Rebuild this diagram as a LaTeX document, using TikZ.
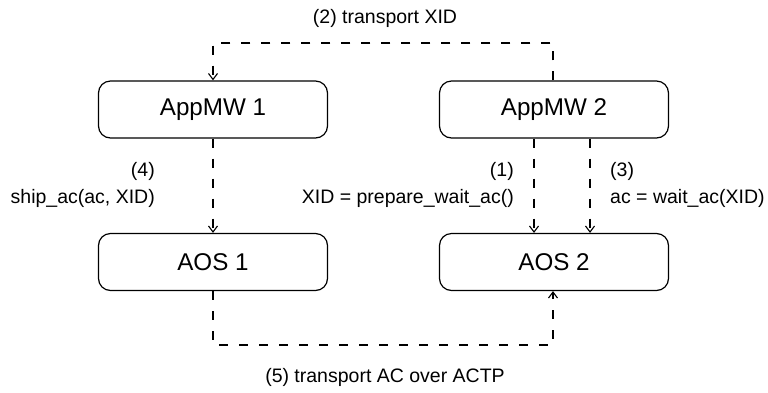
\documentclass[tikz,border=0pt]{standalone}
\usepackage{fontspec}
\setmainfont{Liberation Sans}
\usetikzlibrary{arrows.meta}
\begin{document}
\begin{tikzpicture}[x=1pt,y=-1pt,
  box/.style={draw, line width=1.2pt, rounded corners=12pt,
    minimum width=229pt, minimum height=57pt, inner sep=0pt,
    font=\fontsize{24.2}{29}\selectfont},
  flow/.style={line width=1.8pt, dash pattern=on 9pt off 11pt,
    -{Straight Barb[length=6pt,width=9pt,line width=1.1pt]}},
  lbl/.style={inner sep=0pt, font=\fontsize{19.5}{27}\selectfont}]
  \useasboundingbox (0,0) rectangle (768,392);

  % components
  \node[box] (mw1)  at (213,109.5) {AppMW 1};
  \node[box] (mw2)  at (554,109.5) {AppMW 2};
  \node[box] (aos1) at (213,262)   {AOS 1};
  \node[box] (aos2) at (554,262)   {AOS 2};

  % routing points
  \coordinate (topR) at ([xshift=-1pt]mw2.north |- 0,43);
  \coordinate (topL) at (mw1.north |- 0,43);
  \coordinate (botL) at (aos1.south |- 0,345);
  \coordinate (botR) at ([xshift=-1pt]aos2.south |- 0,345);
  \coordinate (a1s) at ([xshift=-20pt]mw2.south);
  \coordinate (a1e) at ([xshift=-20pt]aos2.north);
  \coordinate (a3s) at ([xshift=36pt]mw2.south);
  \coordinate (a3e) at ([xshift=36pt]aos2.north);

  % (2) transport XID
  \draw[flow] ([xshift=-1pt]mw2.north) -- (topR) -- (topL) -- (mw1.north);
  % (4) ship
  \draw[flow] (mw1.south) -- (aos1.north);
  % (1) prepare
  \draw[flow] (a1s) -- (a1e);
  % (3) wait
  \draw[flow] (a3s) -- (a3e);
  % (5) transport AC
  \draw[flow] (aos1.south) -- (botL) -- (botR) -- ([xshift=-1pt]aos2.south);

  % labels
  \node[lbl] (l2) at (385,18) {(2) transport XID};
  \node[lbl] (l5) at (385,377) {(5) transport AC over ACTP};
  \node[lbl, align=right, anchor=east] (l4) at (155,185) {(4)\\ship\_ac(ac, XID)};
  \node[lbl, align=right, anchor=east] (l1) at (514,185) {(1)\\XID = prepare\_wait\_ac()};
  \node[lbl, align=left, anchor=west] (l3) at (610,185) {(3)\\ac = wait\_ac(XID)};
\end{tikzpicture}
\end{document}
